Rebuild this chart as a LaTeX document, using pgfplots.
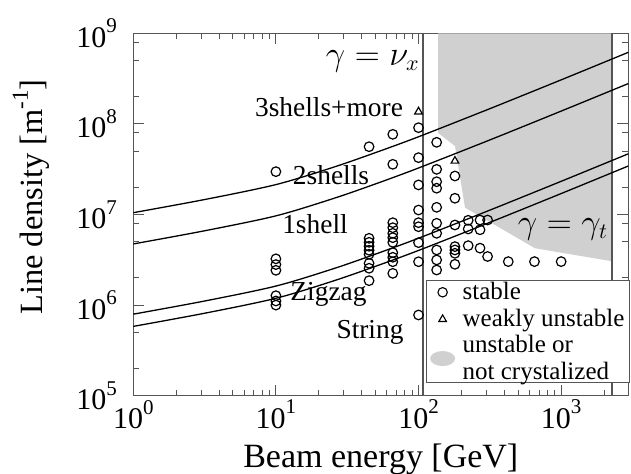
\documentclass[border=0pt]{standalone}
\usepackage{fontspec}
\setmainfont{Liberation Serif}
\usepackage{pgfplots}
\pgfplotsset{compat=1.18}
\definecolor{shadegray}{RGB}{208,208,208}
\definecolor{framegray}{RGB}{85,85,85}
\newcommand{\tsup}[1]{\raisebox{0.48em}{\fontsize{10.5}{11}\selectfont #1}}
\newcommand{\lsup}[1]{\raisebox{0.45em}{\fontsize{11.5}{12}\selectfont #1}}
\begin{document}
\begin{tikzpicture}
\useasboundingbox (-66.65pt,-39.15pt) rectangle (248.85pt,197.85pt);
\begin{axis}[
  at={(0,0)}, anchor=south west,
  scale only axis, width=247.5pt, height=181.2pt,
  xmode=log, ymode=log,
  xmin=1, xmax=2958, ymin=1e5, ymax=1e9,
  axis line style={framegray, line width=0.6pt},
  tick style={framegray, line width=0.5pt},
  major tick length=5.5pt, minor tick length=3pt,
  tick align=inside,
  xtick={1,10,100,1000},
  xticklabels={10\tsup{0},10\tsup{1},10\tsup{2},10\tsup{3}},
  minor xtick={2,3,4,5,6,7,8,9,20,30,40,50,60,70,80,90,200,300,400,500,600,700,800,900,2000},
  ytick={1e5,1e6,1e7,1e8,1e9},
  yticklabels={10\tsup{5},10\tsup{6},10\tsup{7},10\tsup{8},10\tsup{9}},
  minor ytick={2e5,5e5,8e5,2e6,5e6,8e6,2e7,5e7,8e7,2e8,5e8,8e8},
  ticklabel style={font=\fontsize{15}{17}\selectfont},
  xticklabel style={inner sep=1pt, yshift=-1pt},
  yticklabel style={inner sep=0pt, xshift=-8pt},
  xlabel={Beam energy [GeV]},
  ylabel={Line density [m\lsup{-1}]},
  xlabel style={font=\fontsize{17}{19}\selectfont, at={(axis description cs:0.5,-0.176)}, anchor=center},
  ylabel style={font=\fontsize{16.2}{19}\selectfont, at={(axis description cs:-0.2067,0.2227)}, anchor=west, inner sep=0pt},
  legend cell align=left,
  legend style={at={(1.0034,0.3193)}, anchor=north east, draw=framegray, line width=0.6pt, fill=white,
    font=\fontsize{12.5}{13.5}\selectfont, cells={align=left}, row sep=2.1pt,
    inner xsep=2pt, inner ysep=0.15pt, nodes={inner xsep=0.5pt, inner ysep=0pt}},
]
% unstable region
\addplot[fill=shadegray, draw=none, forget plot] coordinates {
  (137,1e9) (137,7.96e7) (180.3,5.68e7) (211.8,1.19e7) (656,4.24e6) (2236,3.06e6) (2236,1e9)} -- cycle;
% vertical lines
\addplot[framegray, line width=0.9pt, forget plot] coordinates {(108,1e5) (108,1e9)};
\addplot[framegray, line width=0.9pt, forget plot] coordinates {(2280,1e5) (2280,1e9)};
% boundaries
\addplot[black, line width=0.65pt, smooth, forget plot] coordinates {
  (1,1.047e7) (3.162,1.462e7) (10,2.138e7) (25.12,3.311e7) (50.12,4.83e7) (100,7.21e7) (316.2,1.472e8) (1000,3.062e8) (2958,6.166e8)};
\addplot[black, line width=0.65pt, smooth, forget plot] coordinates {
  (1,4.73e6) (3.162,6.61e6) (10,9.66e6) (25.12,1.496e7) (50.12,2.18e7) (100,3.26e7) (316.2,6.65e7) (1000,1.384e8) (2958,2.786e8)};
\addplot[black, line width=0.65pt, smooth, forget plot] coordinates {
  (1,7.94e5) (3.162,1.109e6) (10,1.622e6) (25.12,2.512e6) (50.12,3.664e6) (100,5.47e6) (316.2,1.117e7) (1000,2.323e7) (2958,4.677e7)};
\addplot[black, line width=0.65pt, smooth, forget plot] coordinates {
  (1,5.82e5) (3.162,8.13e5) (10,1.189e6) (25.12,1.841e6) (50.12,2.685e6) (100,4.01e6) (316.2,8.18e6) (1000,1.702e7) (2958,3.43e7)};
% stable
\addplot[only marks, mark=o, mark size=2.4pt, line width=0.6pt, black, forget plot] coordinates {
  (10,2.97e7) (10,3.24e6) (10,2.80e6) (10,2.42e6) (10,1.27e6) (10,1.11e6) (10,1.00e6)
  (45,5.6e7) (45,5.46e6) (45,4.93e6) (45,4.46e6) (45,4.03e6) (45,3.64e6) (45,2.89e6) (45,2.55e6) (45,1.86e6)
  (66,7.67e7) (66,3.58e7) (66,8.12e6) (66,7.15e6) (66,6.20e6) (66,5.55e6) (66,4.93e6) (66,3.79e6) (66,3.37e6) (66,3.01e6) (66,2.24e6)
  (100,9.08e7) (100,4.24e7) (100,2.12e7) (100,1.12e7) (100,8.12e6) (100,7.33e6) (100,4.89e6) (100,3.01e6) (100,7.78e5)
  (134,6.26e7) (134,3.15e7) (134,2.30e7) (134,1.95e7) (134,1.20e7) (134,8.0e6) (134,6.20e6) (134,4.06e6) (134,3.15e6) (134,2.44e6)
  (180,2.66e7) (180,1.51e7) (180,7.66e6) (180,4.42e6) (180,4.06e6) (180,3.73e6) (180,2.82e6)
  (223,8.63e6) (223,6.92e6) (223,4.53e6)
  (270,8.69e6) (270,6.78e6) (270,4.25e6)
  (305,8.69e6) (305,3.44e6)
  (426,3.02e6) (650,3.02e6) (1000,3.02e6)};
% weakly unstable
\addplot[only marks, mark=triangle, mark size=2.2pt, line width=0.6pt, black, forget plot] coordinates {
  (100,1.363e8) (180,3.90e7)};
% labels
\node[font=\fontsize{13.7}{16}\selectfont] at (rel axis cs:0.3954,0.7952) {3shells+more};
\node[font=\fontsize{13.7}{16}\selectfont] at (rel axis cs:0.3994,0.6087) {2shells};
\node[font=\fontsize{13.7}{16}\selectfont] at (rel axis cs:0.3671,0.4738) {1shell};
\node[font=\fontsize{13.7}{16}\selectfont] at (rel axis cs:0.3943,0.2801) {Zigzag};
\node[font=\fontsize{13.7}{16}\selectfont] at (rel axis cs:0.4782,0.1744) {String};
\node[font=\fontsize{16}{18}\selectfont, anchor=east, inner sep=0pt] at (rel axis cs:0.5792,0.9236) {$\gamma=\nu_x$};
\node[font=\fontsize{16}{18}\selectfont, anchor=east, inner sep=0pt] at (rel axis cs:0.9596,0.458) {$\gamma=\gamma_t$};
% legend
\addlegendimage{black, line width=0.55pt, legend image code/.code={\path[draw=none,fill=none] (0pt,-5.7pt) rectangle (15pt,5.7pt); \draw[black, line width=0.55pt, fill=none] (5.5pt,0pt) circle (2.35pt);}}
\addlegendentry{stable}
\addlegendimage{black, line width=0.55pt, legend image code/.code={\path[draw=none,fill=none] (0pt,-5.7pt) rectangle (15pt,5.7pt); \draw[black, line width=0.55pt, fill=none] (3.6pt,-1.1pt) -- (7.4pt,-1.1pt) -- (5.5pt,2.2pt) -- cycle;}}
\addlegendentry{weakly unstable}
\addlegendimage{legend image code/.code={\path[draw=none,fill=none] (0pt,-5.7pt) rectangle (15pt,5.7pt); \fill[shadegray, draw=none] (5.5pt,0pt) ellipse (6.25pt and 3.75pt);}}
\addlegendentry{unstable or\\not crystalized}
\end{axis}
\end{tikzpicture}
\end{document}
